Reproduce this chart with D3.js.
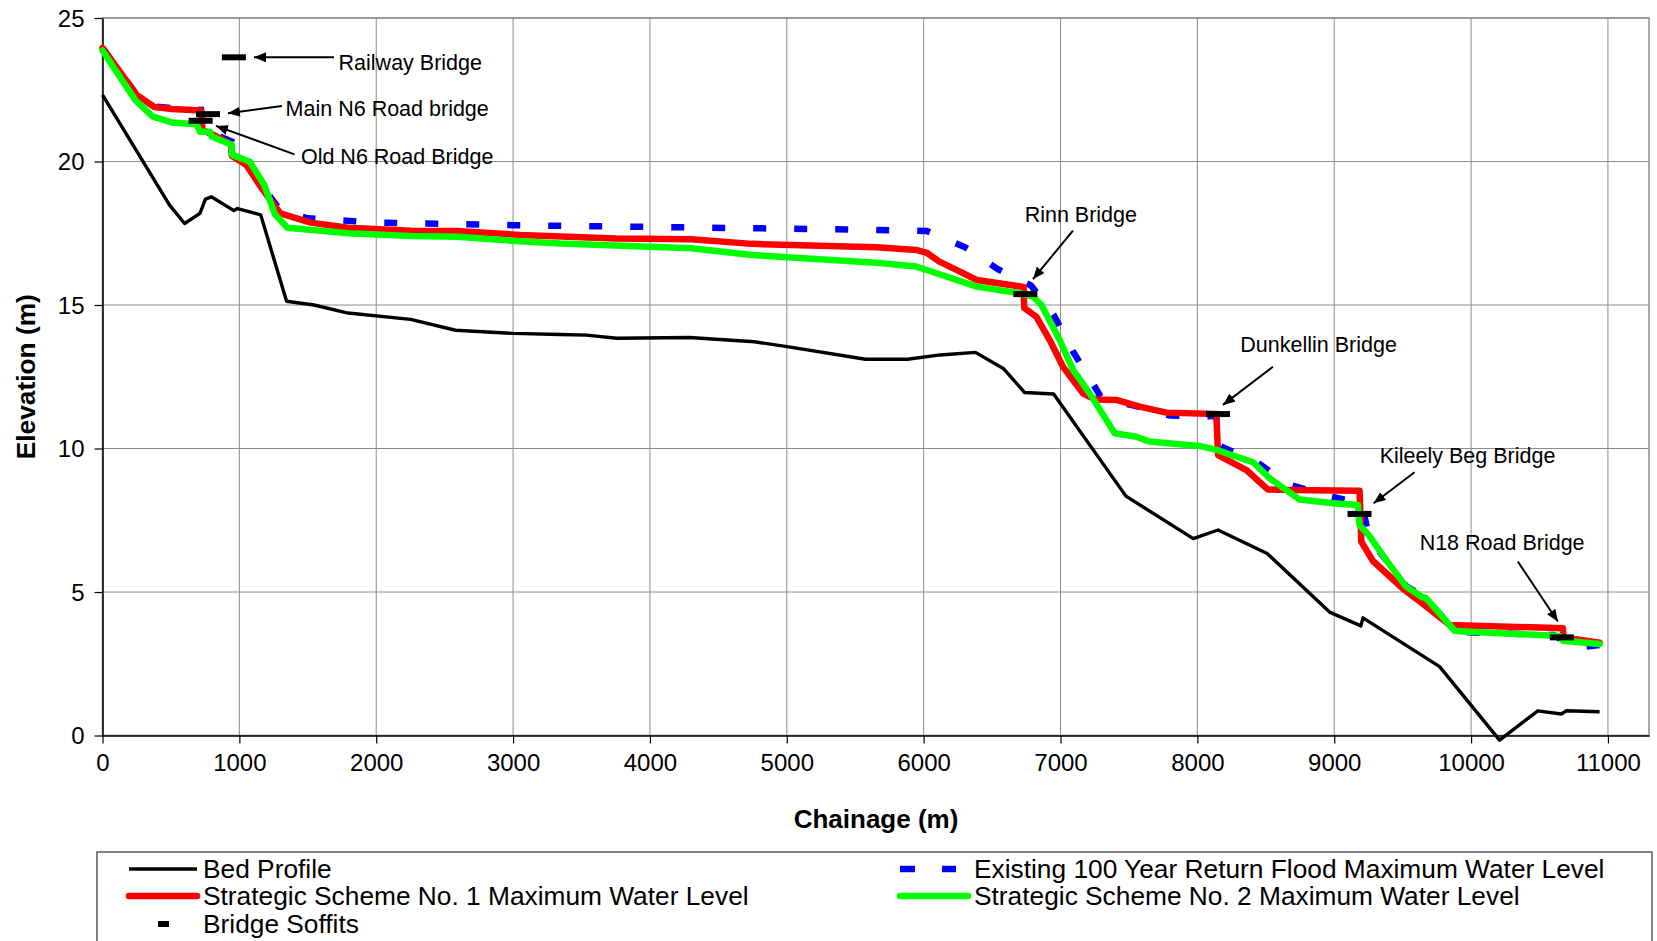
<!DOCTYPE html>
<html>
<head>
<meta charset="utf-8">
<script src="https://cdn.jsdelivr.net/npm/d3@7"></script>
<style>
  body { margin: 0; background: #fff; }
  svg { display: block; font-family: "Liberation Sans", Arial, sans-serif; }
</style>
</head>
<body>
<svg id="chart" width="1657" height="941"></svg>
<script>
// chainage (m) / elevation (m) pairs
const bedChainage = [0, 490, 600, 712, 752, 795, 960, 986, 1156, 1345, 1545, 1794, 2251, 2580, 3000, 3342, 3535, 3758, 4289, 4764, 5002, 5575, 5882, 6120, 6378, 6582, 6738, 6950, 7478, 7970, 8151, 8510, 8966, 9195, 9210, 9770, 10208, 10488, 10660, 10695, 10939];
const bedLevel = [22.32, 18.48, 17.84, 18.19, 18.69, 18.77, 18.29, 18.36, 18.14, 15.13, 15.0, 14.72, 14.5, 14.12, 14.01, 13.97, 13.95, 13.84, 13.87, 13.72, 13.55, 13.11, 13.11, 13.26, 13.35, 12.79, 11.95, 11.9, 8.34, 6.86, 7.16, 6.34, 4.3, 3.82, 4.1, 2.4, -0.16, 0.86, 0.75, 0.86, 0.83];

const existChainage = [0, 250, 378, 505, 720, 730, 800, 943, 948, 1051, 1156, 1300, 1500, 2000, 3000, 4000, 5000, 5877, 6023, 6300, 6545, 6785, 6950, 7092, 7250, 7300, 7530, 7800, 8140, 8151, 8435, 8674, 8966, 9200, 9258, 9527, 9673, 9870, 9940, 10600, 10680, 10780, 10939];
const existLevel = [23.96, 22.32, 21.92, 21.86, 21.8, 21.15, 20.98, 20.7, 20.3, 19.95, 19.2, 18.3, 18.02, 17.87, 17.78, 17.72, 17.66, 17.6, 17.58, 17.02, 16.24, 15.68, 14.65, 13.37, 12.15, 11.75, 11.5, 11.15, 11.12, 10.12, 9.52, 8.74, 8.34, 8.08, 6.85, 5.2, 4.78, 3.68, 3.6, 3.5, 3.3, 3.07, 3.15];

const scheme1Chainage = [0, 250, 378, 505, 720, 730, 800, 940, 945, 1051, 1156, 1300, 1521, 1795, 2251, 2590, 3049, 3754, 4302, 4744, 5657, 5945, 6023, 6115, 6232, 6388, 6730, 6735, 6824, 6921, 7018, 7164, 7213, 7262, 7408, 7579, 7773, 8139, 8151, 8358, 8516, 8674, 9185, 9198, 9283, 9514, 9612, 9843, 10671, 10675, 10939];
const scheme1Level = [23.96, 22.32, 21.9, 21.83, 21.78, 21.1, 20.95, 20.6, 20.2, 19.88, 19.12, 18.19, 17.87, 17.69, 17.59, 17.58, 17.44, 17.32, 17.29, 17.13, 17.01, 16.92, 16.82, 16.51, 16.24, 15.87, 15.63, 14.9, 14.59, 13.78, 12.85, 11.92, 11.8, 11.71, 11.69, 11.46, 11.25, 11.2, 9.77, 9.25, 8.57, 8.55, 8.53, 6.75, 6.08, 5.07, 4.72, 3.85, 3.74, 3.42, 3.23];

const scheme2Chainage = [0, 240, 365, 505, 688, 712, 785, 798, 943, 948, 1077, 1182, 1260, 1351, 1795, 2251, 2590, 3049, 3342, 4302, 4744, 5657, 5945, 6023, 6388, 6702, 6800, 6861, 6994, 7092, 7213, 7396, 7554, 7651, 7749, 8016, 8139, 8407, 8529, 8748, 8991, 9173, 9185, 9258, 9380, 9527, 9636, 9673, 9880, 9940, 10647, 10671, 10939];
const scheme2Level = [23.87, 22.14, 21.57, 21.36, 21.3, 21.04, 21.04, 20.87, 20.58, 20.23, 19.99, 19.18, 18.16, 17.69, 17.5, 17.4, 17.38, 17.22, 17.14, 16.98, 16.74, 16.47, 16.34, 16.22, 15.64, 15.41, 15.29, 15.0, 13.78, 12.74, 11.92, 10.53, 10.41, 10.24, 10.2, 10.09, 9.95, 9.52, 8.96, 8.22, 8.09, 8.03, 7.33, 6.95, 6.11, 5.18, 4.84, 4.78, 3.65, 3.62, 3.47, 3.3, 3.19];

const soffitChainage = [960, 771, 717, 6743, 8151, 9185, 10663];
const soffitLevel = [23.63, 21.65, 21.42, 15.38, 11.2, 7.72, 3.42];

// bridge labels: text anchor point and arrow (from -> tip), in chart units
const bridgeNames = ['Railway Bridge', 'Main N6 Road bridge', 'Old N6 Road Bridge', 'Rinn Bridge', 'Dunkellin Bridge', 'Kileely Beg Bridge', 'N18 Road Bridge'];
const labelChainage = [1725, 1338, 1450, 6738, 8314, 9332, 9624];
const labelLevel = [23.44, 21.85, 20.19, 18.14, 13.61, 9.77, 6.72];
const arrowFrom = [[1691, 23.63], [1311, 21.93], [1403, 20.25], [7091, 17.59], [8552, 12.85], [9587, 9.17], [10342, 6.06]];
const arrowTip = [[1107, 23.63], [917, 21.68], [829, 21.24], [6799, 15.9], [8187, 11.52], [9288, 8.09], [10634, 3.97]];

const xTicks = [0, 1000, 2000, 3000, 4000, 5000, 6000, 7000, 8000, 9000, 10000, 11000];
const yTicks = [0, 5, 10, 15, 20, 25];

const legendNames = ['Bed Profile', 'Existing 100 Year Return Flood Maximum Water Level', 'Strategic Scheme No. 1 Maximum Water Level', 'Strategic Scheme No. 2 Maximum Water Level', 'Bridge Soffits'];

const plotLeft = 102.5, plotTop = 18, plotRight = 1649, plotBottom = 735.5;

const x = d3.scaleLinear().domain([0, 11300]).range([plotLeft, plotRight]);
const y = d3.scaleLinear().domain([0, 25]).range([plotBottom, plotTop]);

const svg = d3.select('#chart');

const zip = (a, b) => a.map((v, i) => [v, b[i]]);

// arrow marker
svg.append('defs')
    .append('marker')
    .attr('id', 'arrow')
    .attr('viewBox', '0 0 12 10')
    .attr('refX', 12)
    .attr('refY', 5)
    .attr('markerWidth', 12)
    .attr('markerHeight', 10)
    .attr('markerUnits', 'userSpaceOnUse')
    .attr('orient', 'auto')
    .append('path')
    .attr('d', 'M0,0 L12,5 L0,10 Z')
    .attr('fill', '#000');

// gridlines
svg.append('g')
    .selectAll('line')
    .data(xTicks.slice(1))
    .enter()
    .append('line')
    .attr('x1', d => x(d)).attr('x2', d => x(d))
    .attr('y1', plotTop).attr('y2', plotBottom)
    .attr('stroke', '#8c8c8c').attr('stroke-width', 1);

svg.append('g')
    .selectAll('line')
    .data(yTicks.slice(1))
    .enter()
    .append('line')
    .attr('x1', plotLeft).attr('x2', plotRight)
    .attr('y1', d => y(d)).attr('y2', d => y(d))
    .attr('stroke', '#8c8c8c').attr('stroke-width', 1);

svg.append('rect')
    .attr('x', plotLeft).attr('y', plotTop)
    .attr('width', plotRight - plotLeft).attr('height', plotBottom - plotTop)
    .attr('fill', 'none').attr('stroke', '#8c8c8c').attr('stroke-width', 1.5);

// axes
const xAxis = svg.append('g')
    .attr('transform', 'translate(0,' + plotBottom + ')')
    .call(d3.axisBottom(x).tickValues(xTicks).tickSize(8).tickSizeOuter(0).tickPadding(10).tickFormat(d3.format('d')));
const yAxis = svg.append('g')
    .attr('transform', 'translate(' + plotLeft + ',0)')
    .call(d3.axisLeft(y).tickValues(yTicks).tickSize(8).tickSizeOuter(0).tickPadding(10));

[xAxis, yAxis].forEach(function (g) {
    g.select('.domain').attr('stroke', '#000').attr('stroke-width', 1.5);
    g.selectAll('.tick line').attr('stroke', '#000').attr('stroke-width', 1.2);
    g.selectAll('.tick text')
        .attr('fill', '#000')
        .style('font-size', '24px')
        .style('font-family', '"Liberation Sans", Arial, sans-serif');
});
yAxis.selectAll('.tick text').attr('dy', '0.35em');

svg.append('text')
    .attr('x', 876).attr('y', 828)
    .attr('text-anchor', 'middle')
    .style('font-size', '26px').style('font-weight', 'bold')
    .text('Chainage (m)');

svg.append('text')
    .attr('transform', 'translate(35,' + (plotTop + plotBottom) / 2 + ') rotate(-90)')
    .attr('text-anchor', 'middle')
    .style('font-size', '26.3px').style('font-weight', 'bold')
    .text('Elevation (m)');

// series
const line = d3.line().x(d => x(d[0])).y(d => y(d[1]));

svg.append('path')
    .datum(zip(bedChainage, bedLevel))
    .attr('d', line)
    .attr('fill', 'none').attr('stroke', '#000').attr('stroke-width', 3.4)
    .attr('stroke-linejoin', 'round');

svg.append('path')
    .datum(zip(existChainage, existLevel))
    .attr('d', line)
    .attr('fill', 'none').attr('stroke', '#0000ff').attr('stroke-width', 6.5)
    .attr('stroke-dasharray', '13 28');

svg.append('path')
    .datum(zip(scheme1Chainage, scheme1Level))
    .attr('d', line)
    .attr('fill', 'none').attr('stroke', '#ff0000').attr('stroke-width', 6.5)
    .attr('stroke-linejoin', 'round').attr('stroke-linecap', 'round');

svg.append('path')
    .datum(zip(scheme2Chainage, scheme2Level))
    .attr('d', line)
    .attr('fill', 'none').attr('stroke', '#00ff00').attr('stroke-width', 6.5)
    .attr('stroke-linejoin', 'round').attr('stroke-linecap', 'round');

svg.append('g')
    .selectAll('rect')
    .data(zip(soffitChainage, soffitLevel))
    .enter()
    .append('rect')
    .attr('x', d => x(d[0]) - 12)
    .attr('y', d => y(d[1]) - 3)
    .attr('width', 24).attr('height', 6)
    .attr('fill', '#000');

// bridge annotations
const notes = svg.append('g');
notes.selectAll('line')
    .data(bridgeNames)
    .enter()
    .append('line')
    .attr('x1', (d, i) => x(arrowFrom[i][0]))
    .attr('y1', (d, i) => y(arrowFrom[i][1]))
    .attr('x2', (d, i) => x(arrowTip[i][0]))
    .attr('y2', (d, i) => y(arrowTip[i][1]))
    .attr('stroke', '#000').attr('stroke-width', 2)
    .attr('marker-end', 'url(#arrow)');

notes.selectAll('text')
    .data(bridgeNames)
    .enter()
    .append('text')
    .attr('x', (d, i) => x(labelChainage[i]))
    .attr('y', (d, i) => y(labelLevel[i]))
    .attr('dy', '0.35em')
    .style('font-size', '21.5px')
    .text(d => d);

// legend
const legend = svg.append('g');
legend.append('rect')
    .attr('x', 97).attr('y', 852)
    .attr('width', 1555).attr('height', 120)
    .attr('fill', '#fff').attr('stroke', '#333').attr('stroke-width', 1.2);

const legendX = [129, 900, 129, 900, 129];
const legendY = [869, 869, 896, 896, 924];
const legendColor = ['#000', '#0000ff', '#ff0000', '#00ff00', '#000'];

legendNames.forEach(function (name, i) {
    const lx = legendX[i], ly = legendY[i];
    if (i === 0) {
        legend.append('line').attr('x1', lx).attr('x2', lx + 68).attr('y1', ly).attr('y2', ly)
            .attr('stroke', '#000').attr('stroke-width', 3.5);
    } else if (i === 1) {
        legend.append('line').attr('x1', lx).attr('x2', lx + 56).attr('y1', ly).attr('y2', ly)
            .attr('stroke', legendColor[i]).attr('stroke-width', 6.5).attr('stroke-dasharray', '15 27');
    } else if (i === 4) {
        legend.append('rect').attr('x', lx + 29).attr('y', ly - 3).attr('width', 11).attr('height', 6)
            .attr('fill', '#000');
    } else {
        legend.append('line').attr('x1', lx).attr('x2', lx + 68).attr('y1', ly).attr('y2', ly)
            .attr('stroke', legendColor[i]).attr('stroke-width', 6.5).attr('stroke-linecap', 'round');
    }
    legend.append('text')
        .attr('x', lx + 74)
        .attr('y', ly)
        .attr('dy', '0.35em')
        .style('font-size', '26.3px')
        .text(name);
});
</script>
</body>
</html>
